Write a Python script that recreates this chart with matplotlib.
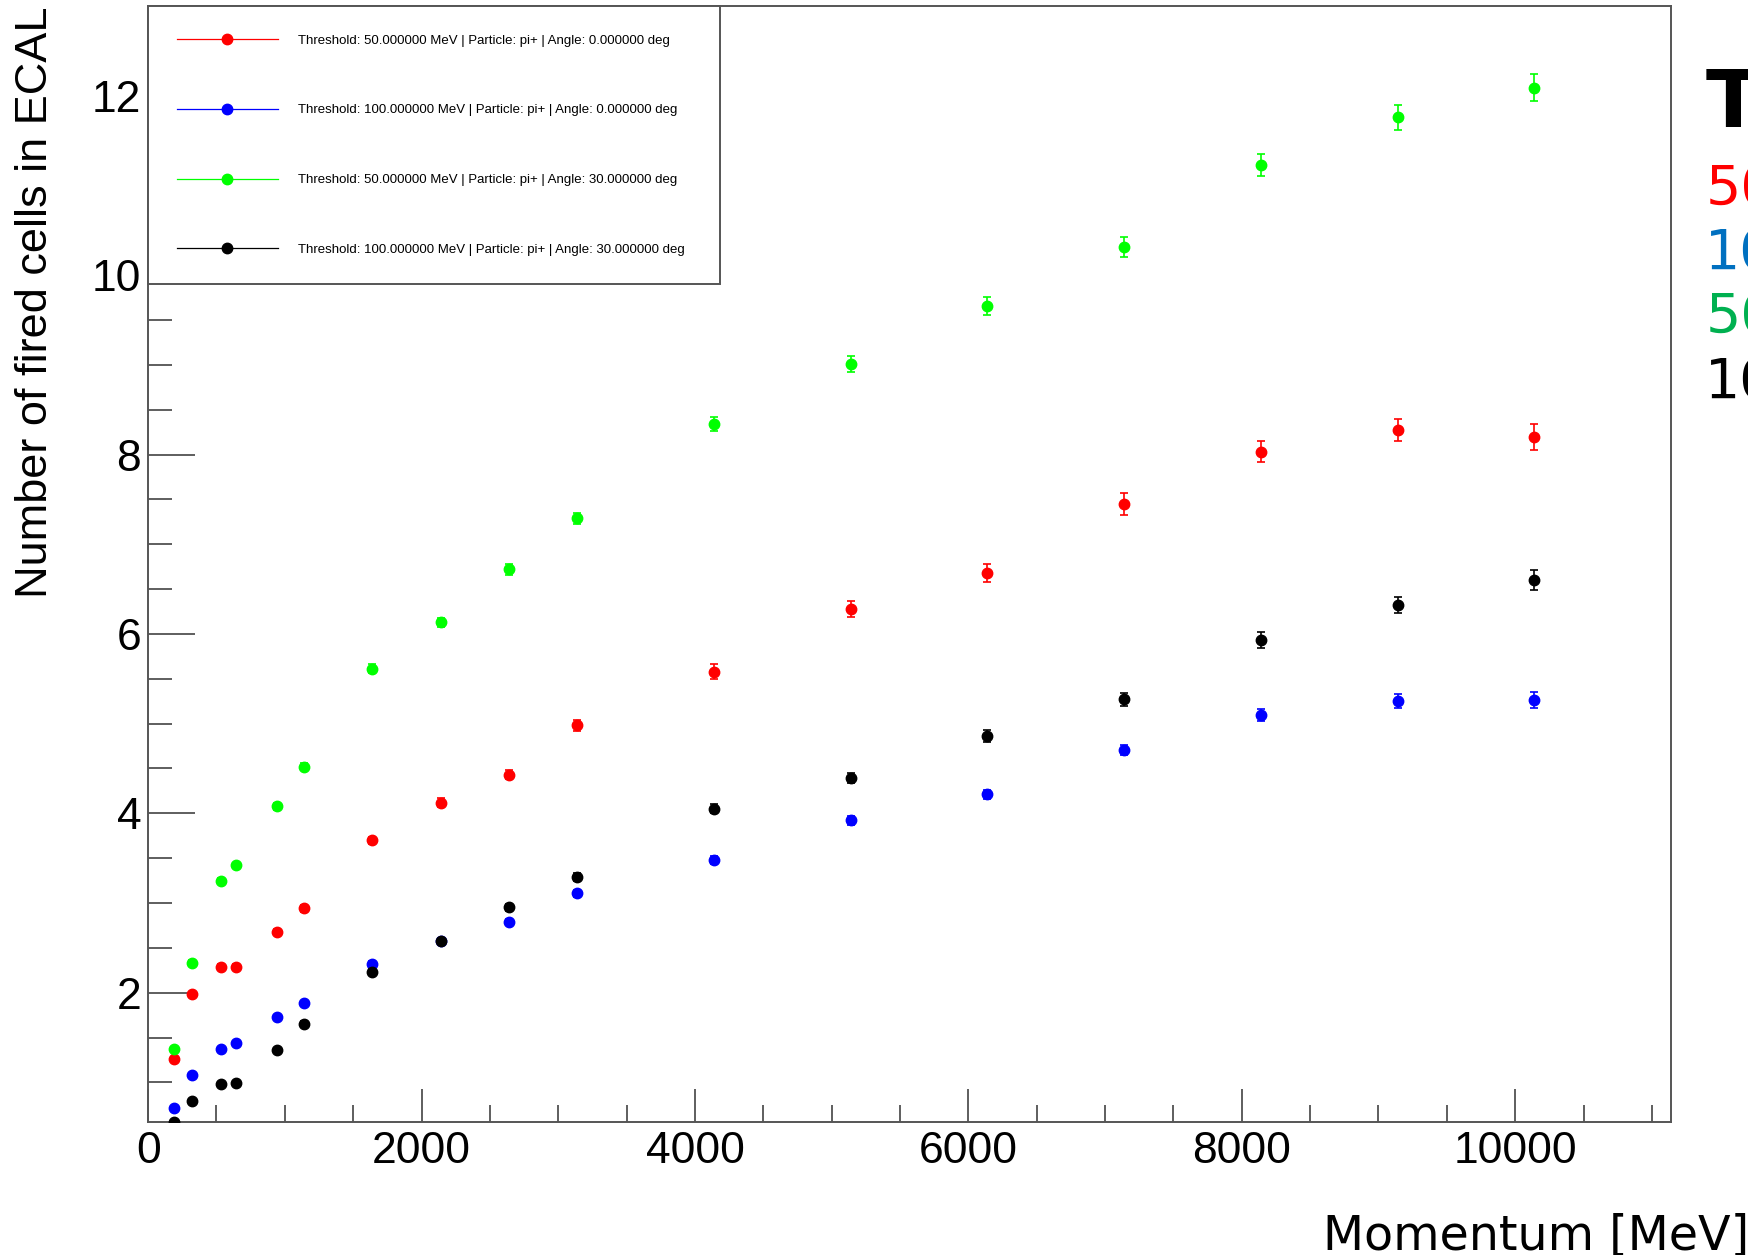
import matplotlib
matplotlib.use("Agg")
import matplotlib.pyplot as plt
from matplotlib.lines import Line2D
from matplotlib.ticker import MultipleLocator

# momentum points (same for all four scans)
momentum = [190, 320, 530, 640, 940, 1140, 1640, 2140, 2640, 3140,
            4140, 5140, 6140, 7140, 8140, 9140, 10140]

cells_50_0 = [1.26, 1.98, 2.29, 2.29, 2.68, 2.94, 3.70, 4.12, 4.43, 4.98,
              5.58, 6.28, 6.68, 7.45, 8.03, 8.27, 8.19]
err_50_0 = [0.02, 0.03, 0.03, 0.03, 0.03, 0.04, 0.04, 0.05, 0.05, 0.06,
            0.08, 0.09, 0.10, 0.12, 0.115, 0.125, 0.145]

cells_100_0 = [0.71, 1.08, 1.37, 1.44, 1.73, 1.88, 2.32, 2.58, 2.79, 3.11,
               3.48, 3.92, 4.21, 4.71, 5.10, 5.25, 5.26]
err_100_0 = [0.01, 0.02, 0.02, 0.02, 0.02, 0.03, 0.03, 0.03, 0.03, 0.04,
             0.04, 0.045, 0.05, 0.055, 0.067, 0.075, 0.09]

cells_50_30 = [1.37, 2.33, 3.25, 3.42, 4.08, 4.52, 5.61, 6.13, 6.72, 7.29,
               8.34, 9.01, 9.66, 10.31, 11.23, 11.76, 12.09]
err_50_30 = [0.02, 0.03, 0.03, 0.03, 0.04, 0.04, 0.05, 0.05, 0.06, 0.06,
             0.08, 0.09, 0.10, 0.11, 0.125, 0.14, 0.15]

cells_100_30 = [0.56, 0.79, 0.98, 0.99, 1.36, 1.65, 2.23, 2.58, 2.95, 3.29,
                4.05, 4.39, 4.86, 5.27, 5.93, 6.32, 6.60]
err_100_30 = [0.01, 0.02, 0.02, 0.02, 0.02, 0.03, 0.03, 0.03, 0.04, 0.04,
              0.05, 0.055, 0.065, 0.073, 0.087, 0.09, 0.11]

labels = [
    "Threshold: 50.000000 MeV | Particle: pi+ | Angle: 0.000000 deg",
    "Threshold: 100.000000 MeV | Particle: pi+ | Angle: 0.000000 deg",
    "Threshold: 50.000000 MeV | Particle: pi+ | Angle: 30.000000 deg",
    "Threshold: 100.000000 MeV | Particle: pi+ | Angle: 30.000000 deg",
]
colors = ["#ff0000", "#0000ff", "#00ff00", "#000000"]
series = [(cells_50_0, err_50_0), (cells_100_0, err_100_0),
          (cells_50_30, err_50_30), (cells_100_30, err_100_30)]

side_text = ["50", "10", "50", "10"]
side_colors = ["#ff0000", "#0070c0", "#00b050", "#000000"]

fig = plt.figure(figsize=(17.49, 12.55), dpi=100)
ax = fig.add_axes([0.0847, 0.1056, 0.8707, 0.8896])

for (vals, errs), col in zip(series, colors):
    ax.errorbar(momentum, vals, yerr=errs, fmt="o", color=col, ms=7.5,
                elinewidth=1.2, capsize=3, capthick=1.2, zorder=3)

ax.set_xlim(0, 11140)
ax.set_ylim(0.553, 13.0)

ax.xaxis.set_major_locator(MultipleLocator(2000))
ax.xaxis.set_minor_locator(MultipleLocator(500))
ax.yaxis.set_major_locator(MultipleLocator(2))
ax.yaxis.set_minor_locator(MultipleLocator(0.5))

ax.tick_params(axis="x", which="major", direction="in", length=23.8,
               width=1.1, color="#333333", pad=6)
ax.tick_params(axis="x", which="minor", direction="in", length=12,
               width=1.1, color="#333333")
ax.tick_params(axis="y", which="major", direction="in", length=33.8,
               width=1.1, color="#333333", pad=5)
ax.tick_params(axis="y", which="minor", direction="in", length=17.3,
               width=1.1, color="#333333")
for lab in ax.get_xticklabels() + ax.get_yticklabels():
    lab.set_fontfamily("Liberation Sans")
    lab.set_fontsize(32)

for sp in ax.spines.values():
    sp.set_color("#555555")
    sp.set_linewidth(1.4)

handles = [Line2D([], [], color=c, lw=0.9, marker="o", ms=7.5) for c in colors]
leg = ax.legend(handles, labels, loc="upper left",
                bbox_to_anchor=(0, 0, 0.3752, 1), mode="expand",
                borderaxespad=0, prop={"family": "Liberation Sans", "size": 9.5},
                borderpad=2.15, labelspacing=4.36, handlelength=7.7,
                handletextpad=1.52, fancybox=False, framealpha=1,
                edgecolor="#555555")
leg.get_frame().set_linewidth(1.4)
leg.set_zorder(5)

fig.text(0.0205, 0.995, "Number of fired cells in ECAL", rotation=90,
         ha="center", va="top", fontsize=32.5, family="Liberation Sans")
fig.text(1.0, 1 - 1249 / 1255, "Momentum [MeV]", ha="right", va="baseline",
         fontsize=34.3, family="DejaVu Sans")

fig.text(0.975, 1 - 127 / 1255, "T", ha="left", va="baseline",
         fontsize=58, fontweight="bold", family="DejaVu Sans")
baselines = [205, 269, 333, 398]
for txt, col, yb in zip(side_text, side_colors, baselines):
    fig.text(0.975, 1 - yb / 1255, txt, ha="left", va="baseline",
             fontsize=40, color=col, family="DejaVu Sans")

fig.savefig("out.png", dpi=100)
